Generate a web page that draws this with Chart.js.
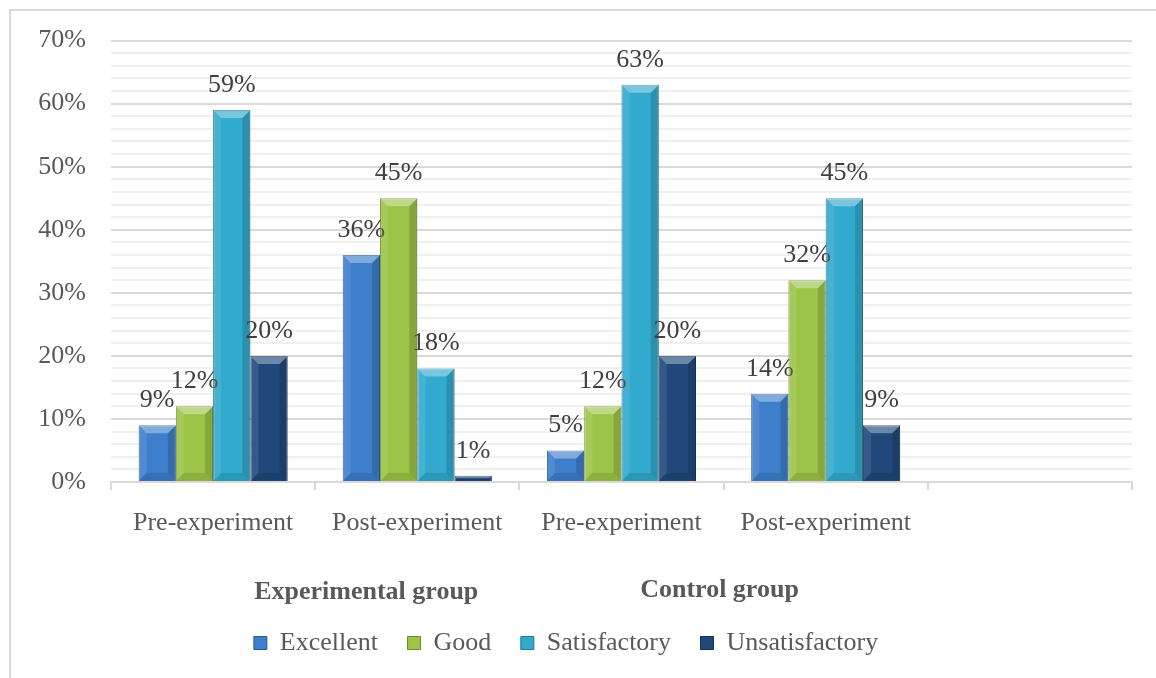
<!DOCTYPE html>
<html lang="en">

<head>
    <meta charset="UTF-8">
    <title>Experimental vs control group</title>
    <style>
        html, body { margin: 0; padding: 0; background: #fff; }
        #wrap { width: 1156px; height: 678px; }
    </style>
</head>

<body>
    <div id="wrap">
        <canvas id="myChart" width="1156" height="678"></canvas>
    </div>
    <script src="https://cdn.jsdelivr.net/npm/chart.js"></script>
    <script>
        // categories (last slot is empty in the original)
        const stages = ['Pre-experiment', 'Post-experiment', 'Pre-experiment', 'Post-experiment', ''];
        const groups = ['Experimental group', 'Control group'];

        // values in %
        const excellent = [9, 36, 5, 14, null];
        const good = [12, 45, 12, 32, null];
        const satisfactory = [59, 18, 63, 45, null];
        const unsatisfactory = [20, 1, 20, 9, null];

        const yTicks = [0, 10, 20, 30, 40, 50, 60, 70];

        const serif = '"Liberation Serif", "Times New Roman", serif';

        // light frame lines top/left like the Excel chart border
        const framePlugin = {
            id: 'frame',
            beforeDraw(chart) {
                const c = chart.ctx;
                c.save();
                c.fillStyle = '#fff';
                c.fillRect(0, 0, chart.width, chart.height);
                c.strokeStyle = '#d9d9d9';
                c.lineWidth = 2;
                c.beginPath();
                c.moveTo(10, chart.height);
                c.lineTo(10, 10);
                c.lineTo(chart.width, 10);
                c.stroke();
                c.restore();
            }
        };

        // bevel look + value labels
        const bevelPlugin = {
            id: 'bevel',
            afterDatasetsDraw(chart) {
                const c = chart.ctx;
                chart.data.datasets.forEach((ds, i) => {
                    chart.getDatasetMeta(i).data.forEach((bar, j) => {
                        if (ds.data[j] == null) return;
                        const w = bar.width, x0 = bar.x - w / 2, x1 = bar.x + w / 2;
                        const top = bar.y, bot = bar.base;
                        const b = Math.min(8, (bot - top) / 2);
                        c.save();
                        // top bevel
                        c.fillStyle = 'rgba(255,255,255,0.35)';
                        c.beginPath();
                        c.moveTo(x0, top); c.lineTo(x1, top);
                        c.lineTo(x1 - b, top + b); c.lineTo(x0 + b, top + b);
                        c.closePath(); c.fill();
                        // bottom bevel
                        c.fillStyle = 'rgba(0,0,0,0.10)';
                        c.beginPath();
                        c.moveTo(x0, bot); c.lineTo(x1, bot);
                        c.lineTo(x1 - b, bot - b); c.lineTo(x0 + b, bot - b);
                        c.closePath(); c.fill();
                        // sides
                        c.fillStyle = 'rgba(255,255,255,0.10)';
                        c.beginPath();
                        c.moveTo(x0, top); c.lineTo(x0 + b, top + b);
                        c.lineTo(x0 + b, bot - b); c.lineTo(x0, bot);
                        c.closePath(); c.fill();
                        c.fillStyle = 'rgba(0,0,0,0.15)';
                        c.beginPath();
                        c.moveTo(x1, top); c.lineTo(x1 - b, top + b);
                        c.lineTo(x1 - b, bot - b); c.lineTo(x1, bot);
                        c.closePath(); c.fill();
                        // value label
                        c.fillStyle = '#404040';
                        c.font = '26px ' + serif;
                        c.textAlign = 'center';
                        c.textBaseline = 'bottom';
                        c.fillText(ds.data[j] + '%', bar.x, top - 12);
                        c.restore();
                    });
                });
            }
        };

        // second level category labels
        const groupPlugin = {
            id: 'groupLabels',
            afterDraw(chart) {
                const c = chart.ctx;
                const xs = chart.scales.x;
                const at = [0.75, 2.48];
                c.save();
                c.fillStyle = '#595959';
                c.font = 'bold 26px ' + serif;
                c.textAlign = 'center';
                c.textBaseline = 'middle';
                groups.forEach((g, i) => {
                    c.fillText(g, xs.getPixelForValue(at[i]), i === 0 ? 592 : 590);
                });
                c.restore();
            }
        };

        const ctx = document.getElementById('myChart');
        const myChart = new Chart(ctx, {
            type: 'bar',
            data: {
                labels: stages,
                datasets: [{
                    label: 'Excellent',
                    data: excellent,
                    backgroundColor: 'rgb(62, 126, 202)',
                    borderColor: 'rgb(40, 90, 150)'
                }, {
                    label: 'Good',
                    data: good,
                    backgroundColor: 'rgb(156, 196, 72)',
                    borderColor: 'rgb(110, 140, 45)'
                }, {
                    label: 'Satisfactory',
                    data: satisfactory,
                    backgroundColor: 'rgb(50, 170, 205)',
                    borderColor: 'rgb(30, 120, 150)'
                }, {
                    label: 'Unsatisfactory',
                    data: unsatisfactory,
                    backgroundColor: 'rgb(32, 72, 122)',
                    borderColor: 'rgb(20, 45, 80)'
                }]
            },
            options: {
                responsive: false,
                animation: false,
                datasets: {
                    bar: {
                        categoryPercentage: 0.73,
                        barPercentage: 1,
                        borderWidth: 1
                    }
                },
                layout: {
                    padding: { top: 38, right: 24, bottom: 12, left: 0 }
                },
                scales: {
                    x: {
                        offset: true,
                        afterFit: s => { s.height = 138; },
                        grid: {
                            offset: true,
                            drawOnChartArea: false,
                            drawTicks: true,
                            tickLength: 8,
                            color: '#d9d9d9',
                            lineWidth: 2
                        },
                        border: { color: '#d9d9d9', width: 2 },
                        ticks: {
                            color: '#595959',
                            font: { family: serif, size: 26 },
                            padding: 18,
                            maxRotation: 0,
                            autoSkip: false
                        }
                    },
                    y: {
                        min: 0,
                        max: yTicks[yTicks.length - 1],
                        afterFit: s => { s.width = 111; },
                        border: { display: false },
                        grid: {
                            drawTicks: false,
                            lineWidth: 2,
                            color: c => (c.tick && c.tick.value % 10 === 0) ? '#d9d9d9' : '#f0f0f0'
                        },
                        ticks: {
                            stepSize: 2,
                            autoSkip: false,
                            padding: 25,
                            color: '#595959',
                            font: { family: serif, size: 26 },
                            callback: v => yTicks.includes(v) ? v + '%' : ''
                        }
                    }
                },
                plugins: {
                    tooltip: { enabled: false },
                    legend: {
                        position: 'bottom',
                        labels: {
                            boxWidth: 13,
                            boxHeight: 13,
                            padding: 10,
                            color: '#595959',
                            font: { family: serif, size: 26 },
                            generateLabels: chart => {
                                const items = Chart.defaults.plugins.legend.labels.generateLabels(chart);
                                items.forEach((it, k) => {
                                    if (k < items.length - 1) it.text = it.text + '\u2002 ';
                                });
                                return items;
                            }
                        }
                    }
                }
            },
            plugins: [framePlugin, bevelPlugin, groupPlugin]
        });
    </script>
</body>

</html>
